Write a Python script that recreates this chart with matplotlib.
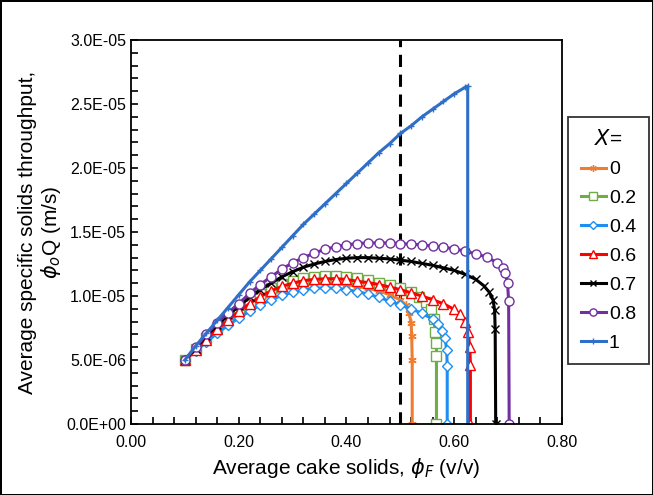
import matplotlib
matplotlib.use('Agg')
import matplotlib.pyplot as plt
from matplotlib.ticker import MultipleLocator, FuncFormatter

plt.rcParams['font.family'] = ['Liberation Sans', 'DejaVu Sans']
plt.rcParams['mathtext.fontset'] = 'dejavusans'

# Data (y in 1E-6 m/s)
phi_x0 = [0.10, 0.12, 0.14, 0.16, 0.18, 0.20, 0.22, 0.24, 0.26, 0.28, 0.30, 0.32, 0.34, 0.36,
          0.38, 0.40, 0.42, 0.44, 0.46, 0.48, 0.50, 0.51, 0.516, 0.52, 0.521, 0.522, 0.522]
q_x0 = [5.0, 5.8, 6.6, 7.3, 8.0, 8.6, 9.2, 9.7, 10.1, 10.45, 10.7, 10.85, 10.95, 11.0,
        10.95, 10.9, 10.75, 10.6, 10.4, 10.1, 9.7, 9.3, 8.7, 7.9, 6.9, 5.0, 0.0]

phi_x02 = [0.10, 0.12, 0.14, 0.16, 0.18, 0.20, 0.22, 0.24, 0.26, 0.28, 0.30, 0.32, 0.34, 0.36,
           0.38, 0.40, 0.42, 0.44, 0.46, 0.48, 0.50, 0.52, 0.535, 0.548, 0.557, 0.562, 0.565,
           0.567, 0.567, 0.567]
q_x02 = [5.0, 5.9, 6.7, 7.5, 8.3, 9.0, 9.6, 10.15, 10.6, 10.95, 11.2, 11.4, 11.5, 11.55,
         11.55, 11.5, 11.4, 11.25, 11.05, 10.85, 10.6, 10.3, 9.95, 9.5, 9.0, 8.2, 7.2,
         6.3, 5.3, 0.0]

phi_x04 = [0.10, 0.12, 0.14, 0.16, 0.18, 0.20, 0.22, 0.24, 0.26, 0.28, 0.30, 0.32, 0.34, 0.36,
           0.38, 0.40, 0.42, 0.44, 0.46, 0.48, 0.50, 0.52, 0.54, 0.56, 0.57, 0.578, 0.583,
           0.586, 0.587, 0.587]
q_x04 = [5.0, 5.7, 6.4, 7.1, 7.7, 8.3, 8.8, 9.3, 9.7, 10.05, 10.3, 10.5, 10.6, 10.65,
         10.6, 10.5, 10.35, 10.15, 9.9, 9.6, 9.3, 9.0, 8.65, 8.2, 7.8, 7.3, 6.7,
         5.8, 4.5, 0.0]

phi_x06 = [0.10, 0.12, 0.14, 0.16, 0.18, 0.20, 0.22, 0.24, 0.26, 0.28, 0.30, 0.32, 0.34, 0.36,
           0.38, 0.40, 0.42, 0.44, 0.46, 0.48, 0.50, 0.52, 0.54, 0.56, 0.58, 0.60, 0.61,
           0.62, 0.626, 0.629, 0.630, 0.630]
q_x06 = [5.0, 5.8, 6.6, 7.4, 8.1, 8.8, 9.4, 9.95, 10.4, 10.75, 11.0, 11.2, 11.3, 11.35,
         11.35, 11.3, 11.15, 11.05, 10.9, 10.7, 10.5, 10.25, 10.0, 9.7, 9.4, 8.95, 8.6,
         8.0, 7.2, 6.0, 4.6, 0.0]

phi_x07 = [0.10, 0.12, 0.14, 0.16, 0.18, 0.20, 0.22, 0.24, 0.26, 0.28, 0.30, 0.32, 0.34, 0.36,
           0.38, 0.40, 0.42, 0.44, 0.46, 0.48, 0.50, 0.52, 0.54, 0.56, 0.58, 0.60, 0.62,
           0.64, 0.655, 0.665, 0.672, 0.675, 0.676, 0.677]
q_x07 = [5.0, 5.9, 6.9, 7.7, 8.5, 9.2, 9.9, 10.5, 11.0, 11.5, 11.9, 12.25, 12.5, 12.7,
         12.85, 12.95, 13.0, 13.0, 12.95, 12.9, 12.8, 12.7, 12.55, 12.4, 12.2, 12.0, 11.7,
         11.3, 10.8, 10.3, 9.7, 8.9, 7.4, 0.0]

phi_x08 = [0.10, 0.12, 0.14, 0.16, 0.18, 0.20, 0.22, 0.24, 0.26, 0.28, 0.30, 0.32, 0.34, 0.36,
           0.38, 0.40, 0.42, 0.44, 0.46, 0.48, 0.50, 0.52, 0.54, 0.56, 0.58, 0.60, 0.62,
           0.64, 0.66, 0.68, 0.69, 0.695, 0.699, 0.701, 0.702]
q_x08 = [5.0, 6.0, 7.0, 7.9, 8.7, 9.4, 10.2, 10.9, 11.5, 12.1, 12.6, 13.0, 13.35, 13.65,
         13.85, 14.0, 14.1, 14.15, 14.15, 14.15, 14.1, 14.05, 14.0, 13.9, 13.8, 13.7, 13.5,
         13.3, 13.05, 12.6, 12.2, 11.8, 11.0, 9.6, 0.0]

phi_x1 = [0.10, 0.12, 0.14, 0.16, 0.18, 0.20, 0.22, 0.24, 0.26, 0.28, 0.30, 0.32, 0.34, 0.36,
          0.38, 0.40, 0.42, 0.44, 0.46, 0.48, 0.50, 0.52, 0.54, 0.56, 0.58, 0.60, 0.62,
          0.625, 0.625]
q_x1 = [5.0, 6.1, 7.1, 8.1, 9.1, 10.1, 11.1, 12.0, 12.9, 13.8, 14.7, 15.6, 16.4, 17.2,
        18.0, 18.8, 19.6, 20.4, 21.2, 21.9, 22.7, 23.3, 24.0, 24.6, 25.2, 25.8, 26.3,
        26.4, 0.0]

cutoff_phi = 0.5

# Series styles
series = [
    ('0',   phi_x0,  q_x0,  '#ED7D31', (6, 2, 0), 6, '#ED7D31'),
    ('0.2', phi_x02, q_x02, '#70AD47', 's', 6.5, 'white'),
    ('0.4', phi_x04, q_x04, '#1E8FF0', 'D', 5, 'white'),
    ('0.6', phi_x06, q_x06, '#FF0000', '^', 6.5, 'white'),
    ('0.7', phi_x07, q_x07, '#000000', 'x', 6, '#000000'),
    ('0.8', phi_x08, q_x08, '#7030A0', 'o', 6.5, 'white'),
    ('1',   phi_x1,  q_x1,  '#2F6FC8', '+', 5, '#2F6FC8'),
]

fig = plt.figure(figsize=(6.53, 4.95), dpi=100)
fig.patch.set_edgecolor('black')
fig.patch.set_linewidth(2)
ax = fig.add_axes([0.2006, 0.1434, 0.66, 0.7757])

for label, xs, ys, color, marker, ms, mfc in series:
    ax.plot(xs, [y * 1e-6 for y in ys], color=color, linewidth=2.2, marker=marker,
            markersize=ms, markerfacecolor=mfc, markeredgecolor=color,
            markeredgewidth=1.0, label=label)

ax.axvline(cutoff_phi, color='black', linestyle=(0, (4, 2.5)), linewidth=2.2, zorder=0)

ax.set_xlim(0, 0.8)
ax.set_ylim(0, 3e-5)
ax.xaxis.set_major_locator(MultipleLocator(0.2))
ax.xaxis.set_minor_locator(MultipleLocator(0.04))
ax.yaxis.set_major_locator(MultipleLocator(5e-6))
ax.yaxis.set_minor_locator(MultipleLocator(1e-6))
ax.xaxis.set_major_formatter(FuncFormatter(lambda v, p: f'{v:.2f}'))
ax.yaxis.set_major_formatter(FuncFormatter(lambda v, p: f'{v:.1E}'))
ax.tick_params(which='both', direction='in', length=5, width=1.2, labelsize=11.5)
ax.tick_params(axis='x', pad=8)
for sp in ax.spines.values():
    sp.set_linewidth(1.3)

ax.set_xlabel(r'Average cake solids, $\phi_F$ (v/v)', fontsize=15, labelpad=4)
ax.set_ylabel('Average specific solids throughput,\n' + r'$\phi_o$Q (m/s)', fontsize=15,
              labelpad=2, linespacing=1.15)

leg = ax.legend(loc='upper left', bbox_to_anchor=(1.014, 0.80), borderaxespad=0,
                frameon=True, fancybox=False, edgecolor='black', fontsize=14,
                title=r'$X$=', title_fontsize=15, handlelength=1.3, handletextpad=0.15,
                labelspacing=0.58, borderpad=0.65, markerscale=0.8)
leg.get_frame().set_linewidth(1.3)

fig.savefig('out.png', dpi=100, edgecolor=fig.get_edgecolor())
